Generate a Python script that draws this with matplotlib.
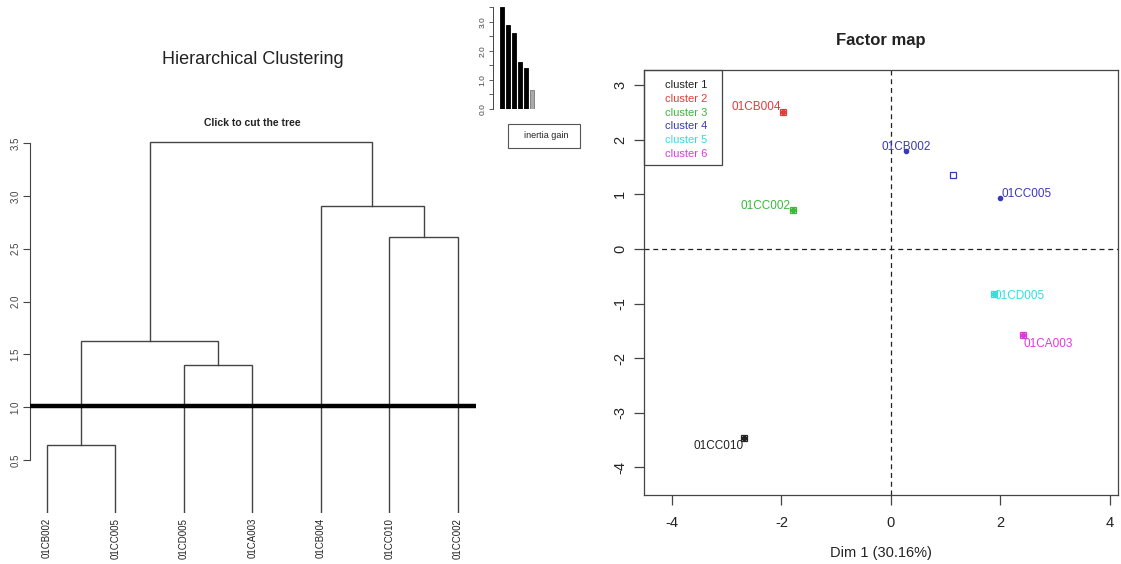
import matplotlib
matplotlib.use("Agg")
import matplotlib.pyplot as plt
from matplotlib.patches import Rectangle

plt.rcParams['font.family'] = ['Liberation Sans', 'DejaVu Sans']

# ---- hierarchical tree ----
leaf_labels = ["01CB002", "01CC005", "01CD005", "01CA003", "01CB004", "01CC010", "01CC002"]
# merges: (left, right, height); negative = leaf number, positive = earlier merge number
merge_left = [-1, -3, 1, -6, -5, 3]
merge_right = [-2, -4, 2, -7, 4, 5]
merge_height = [0.64, 1.40, 1.63, 2.61, 2.90, 3.51]
cut_height = 1.01

# ---- factor map ----
ind_labels = ["01CB004", "01CC002", "01CB002", "01CC005", "01CD005", "01CA003", "01CC010"]
dim1 = [-1.97, -1.79, 0.27, 1.99, 1.88, 2.41, -2.68]
dim2 = [2.51, 0.71, 1.79, 0.93, -0.82, -1.58, -3.46]
cluster = [2, 3, 4, 4, 5, 6, 1]
cluster_names = ["cluster 1", "cluster 2", "cluster 3", "cluster 4", "cluster 5", "cluster 6"]
cluster_colors = ["#222222", "#e33b3b", "#3cb83c", "#3a3ab8", "#33dede", "#dd3add"]

W, H = 1121, 564
fig = plt.figure(figsize=(W / 100, H / 100), dpi=100)


def rect(l, t, r, b):
    return [l / W, 1 - b / H, (r - l) / W, (b - t) / H]


line_col = "#444444"

# ================= dendrogram =================
ax = fig.add_axes(rect(30, 125, 476, 513))
nleaf = len(leaf_labels)
node_x = {}
node_h = {}
for i in range(nleaf):
    node_x[-(i + 1)] = i + 1
    node_h[-(i + 1)] = 0.0
for k, (a, b, h) in enumerate(zip(merge_left, merge_right, merge_height)):
    xa, xb = node_x[a], node_x[b]
    ha_, hb_ = node_h[a], node_h[b]
    ax.plot([xa, xa, xb, xb], [ha_, h, h, hb_], color=line_col, lw=1.0,
            solid_joinstyle="miter", zorder=2)
    node_x[k + 1] = (xa + xb) / 2
    node_h[k + 1] = h

ax.axhline(cut_height, color="black", lw=3.2, zorder=3)
ax.set_xlim(0.752, 7.263)
ax.set_ylim(0, 3.67)
for s in ["top", "right", "bottom"]:
    ax.spines[s].set_visible(False)
ax.spines["left"].set_bounds(0.5, 3.5)
ax.spines["left"].set_color(line_col)
ax.set_xticks([])
ax.set_yticks([0.5, 1.0, 1.5, 2.0, 2.5, 3.0, 3.5])
ax.set_yticklabels(["0.5", "1.0", "1.5", "2.0", "2.5", "3.0", "3.5"],
                   rotation=90, va="center", fontsize=7, color="#444444")
ax.tick_params(axis="y", length=5, width=0.8, color=line_col, pad=2)
ax.patch.set_alpha(0)
for i, lab in enumerate(leaf_labels):
    ax.annotate(lab, xy=(i + 1, 0), xytext=(0, -5), textcoords="offset pixels",
                rotation=90, ha="center", va="top", fontsize=7, color="#222222",
                annotation_clip=False)

fig.text(253 / W, 1 - 60 / H, "Hierarchical Clustering", ha="center", va="center",
         fontsize=13, color="#222222")
fig.text(252 / W, 1 - 123 / H, "Click to cut the tree", ha="center", va="center",
         fontsize=7.5, fontweight="bold", color="#222222")

# ================= inertia gain inset =================
gains = sorted(merge_height, reverse=True)
axi = fig.add_axes(rect(493, 5, 545, 109))
bar_cols = ["black"] * (len(gains) - 1) + ["#aaaaaa"]
axi.bar(range(len(gains)), gains, width=0.7, color=bar_cols,
        edgecolor=["black"] * (len(gains) - 1) + ["#777777"], linewidth=0.6)
axi.set_xlim(-1.5, 7.2)
axi.set_ylim(0, 3.586)
for s in ["top", "right", "bottom"]:
    axi.spines[s].set_visible(False)
axi.spines["left"].set_bounds(0, 3.5)
axi.spines["left"].set_color(line_col)
axi.spines["left"].set_linewidth(0.7)
axi.set_xticks([])
axi.set_yticks([0, 0.5, 1.0, 1.5, 2.0, 2.5, 3.0, 3.5])
axi.set_yticklabels(["0.0", "", "1.0", "", "2.0", "", "3.0", ""], rotation=90,
                    va="center", fontsize=6, color="#444444")
axi.tick_params(axis="y", length=3, width=0.6, color=line_col, pad=1.5)
axi.patch.set_alpha(0)
fig.patches.append(Rectangle((508 / W, 1 - 148 / H), 72 / W, 24 / H, transform=fig.transFigure,
                             fill=False, edgecolor="#555555", lw=0.8))
fig.text(546 / W, 1 - 136 / H, "inertia gain", ha="center", va="center",
         fontsize=6.5, color="#222222")

# ================= factor map =================
axf = fig.add_axes(rect(644, 70, 1118, 495))
axf.set_xlim(-4.511, 4.146)
axf.set_ylim(-4.505, 3.278)
axf.axvline(0, color="#222222", lw=0.9, ls=(0, (4, 3)), zorder=1)
axf.axhline(0, color="#222222", lw=0.9, ls=(0, (4, 3)), zorder=1)

label_offsets = {
    "01CB004": (-2, 5, "right"),
    "01CC002": (-2, 4, "right"),
    "01CB002": (0, 4, "center"),
    "01CC005": (2, 4, "left"),
    "01CD005": (1, -2, "left"),
    "01CA003": (1, -9, "left"),
    "01CC010": (-1, -8, "right"),
}
for lab, x, y, c in zip(ind_labels, dim1, dim2, cluster):
    col = cluster_colors[c - 1]
    axf.plot(x, y, "o", ms=3, color=col, zorder=3)
    dx, dy, ha = label_offsets[lab]
    axf.annotate(lab, xy=(x, y), xytext=(dx, dy), textcoords="offset pixels",
                 ha=ha, va="center", fontsize=8.5, color=col)

# cluster centres
for k in range(1, len(cluster_names) + 1):
    xs = [x for x, c in zip(dim1, cluster) if c == k]
    ys = [y for y, c in zip(dim2, cluster) if c == k]
    if xs:
        axf.plot(sum(xs) / len(xs), sum(ys) / len(ys), "s", ms=5, mfc="none",
                 mec=cluster_colors[k - 1], mew=0.9, zorder=4)

for s in axf.spines.values():
    s.set_color("#444444")
    s.set_linewidth(0.9)
axf.set_xticks([-4, -2, 0, 2, 4])
axf.set_xticklabels(["-4", "-2", "0", "2", "4"], fontsize=10.5, color="#222222")
axf.set_yticks([-4, -3, -2, -1, 0, 1, 2, 3])
axf.set_yticklabels(["-4", "-3", "-2", "-1", "0", "1", "2", "3"], rotation=90,
                    va="center", fontsize=10.5, color="#222222")
axf.tick_params(axis="both", length=7, width=0.9, color="#444444")
axf.tick_params(axis="x", pad=8)
axf.tick_params(axis="y", pad=5)
axf.set_xlabel("Dim 1 (30.16%)", fontsize=10.5, color="#222222", labelpad=12)
axf.set_title("Factor map", fontsize=12, fontweight="bold", color="#222222", pad=18)

# legend box
axf.add_patch(Rectangle((0, 1), 78 / 474, -95 / 425, transform=axf.transAxes,
                        fill=False, edgecolor="#444444", lw=0.9, clip_on=False, zorder=5))
for i, (name, col) in enumerate(zip(cluster_names, cluster_colors)):
    axf.text(21 / 474, 1 - (15 + 13.8 * i) / 425, name, transform=axf.transAxes,
             ha="left", va="center", fontsize=8, color=col)

fig.savefig("out.png", dpi=100)
